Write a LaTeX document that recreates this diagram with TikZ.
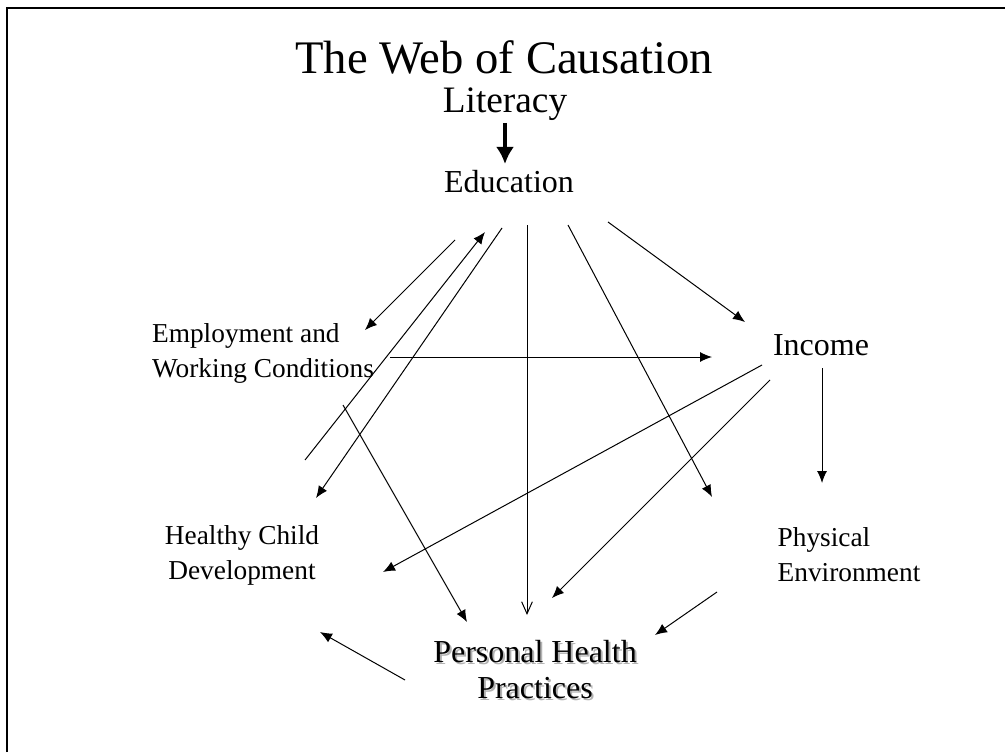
\documentclass[tikz,border=0pt]{standalone}
\usepackage{fontspec}
\setmainfont{Liberation Serif}
\usepackage{tikz}
\usetikzlibrary{calc,arrows.meta,positioning}
\definecolor{shadowgrey}{gray}{0.7}

\begin{document}
\begin{tikzpicture}[x=0.75pt,y=-0.75pt]

\tikzset{causenode/.style={font=\fontsize{24}{27}\selectfont,inner sep=0pt,align=center},
smallcause/.style={font=\fontsize{20.5}{26.25}\selectfont,inner sep=0pt,align=center},
web/.style={line width=0.75pt,-{Latex[length=9pt,width=7.5pt]}},
openweb/.style={line width=0.75pt,-{Straight Barb[length=9pt,width=8pt]}}}

\useasboundingbox (0,0) rectangle (1005,752);

% Slide frame
\draw[line width=1.5pt] (7,752) -- (7,8) -- (1005,8);

% Title and top of the chain
\node (title) [font=\fontsize{35}{40}\selectfont,inner sep=0pt] at (504,57) {The Web of Causation};
\node (literacy) [font=\fontsize{28}{32}\selectfont,inner sep=0pt] at (505,104) {Literacy};
\node (education) [causenode] at (509,182) {Education};

% Determinants
\node (employment) [smallcause,align=left] at (263,353) {Employment and\\Working Conditions};
\node (income) [causenode] at (821,345) {Income};
\node (healthy) [smallcause] at (242,555) {Healthy Child\\Development};
\node (physical) [smallcause,align=left] at (849,555) {Physical\\Environment};
\node (personalshadow) [causenode,text=shadowgrey] at (537,672) {Personal Health\\Practices};
\node (personal) [causenode] at (535,670) {Personal Health\\Practices};

% Arrow ends
\coordinate (litA) at (505,123); \coordinate (litB) at (505,164);
\coordinate (e1) at (455,240); \coordinate (emp1) at (365,330);
\coordinate (hc1) at (305,460); \coordinate (e2) at (485,232);
\coordinate (e3) at (502,228); \coordinate (hc2) at (316,498);
\coordinate (e4) at (527,225); \coordinate (p1) at (527,615);
\coordinate (e5) at (568,225); \coordinate (ph1) at (712,497);
\coordinate (e6) at (608,222); \coordinate (in1) at (745,322);
\coordinate (emp2) at (390,357); \coordinate (in2) at (712,357);
\coordinate (emp3) at (343,405); \coordinate (p2) at (467,622);
\coordinate (in3) at (762,365); \coordinate (hc3) at (383,572);
\coordinate (in4) at (770,380); \coordinate (p3) at (552,598);
\coordinate (in5) at (822,368); \coordinate (ph2) at (822,483);
\coordinate (ph3) at (717,592); \coordinate (p4) at (655,635);
\coordinate (p5) at (405,680); \coordinate (hc4) at (320,632);

% Edges
\draw[line width=3pt,-{Latex[length=12.75pt,width=13.5pt]}] (litA) -- (litB);
\draw[web] (e1) -- (emp1); \draw[web] (hc1) -- (e2); \draw[web] (e3) -- (hc2);
\draw[openweb] (e4) -- (p1);
\draw[web] (e5) -- (ph1); \draw[web] (e6) -- (in1);
\draw[web] (emp2) -- (in2); \draw[web] (emp3) -- (p2);
\draw[web] (in3) -- (hc3); \draw[web] (in4) -- (p3); \draw[web] (in5) -- (ph2);
\draw[web] (ph3) -- (p4); \draw[web] (p5) -- (hc4);

\end{tikzpicture}
\end{document}
